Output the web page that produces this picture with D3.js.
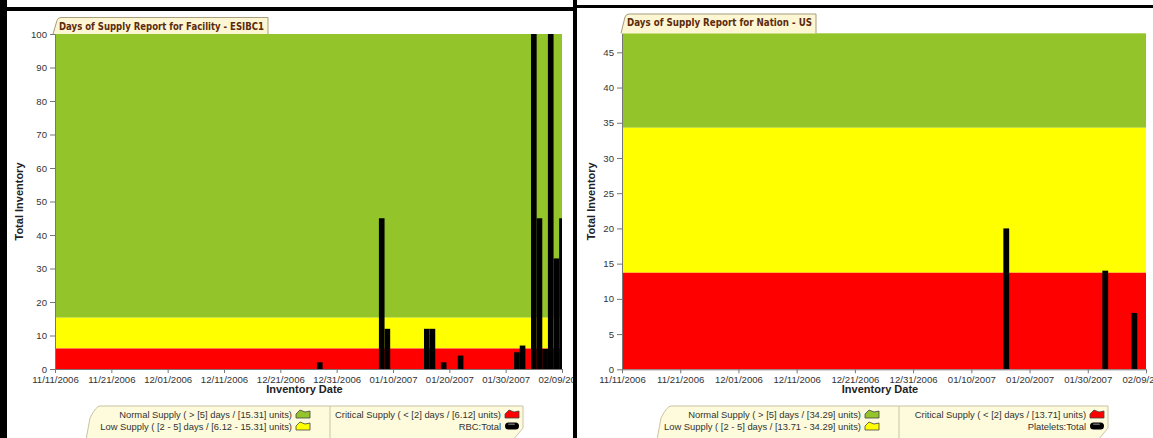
<!DOCTYPE html>
<html lang="en">
<head>
  <meta charset="UTF-8" />
  <title>Days of Supply Report</title>
  <script src="https://d3js.org/d3.v7.min.js"></script>
  <style>
    body { margin: 0; background: #fff; font-family: "Liberation Sans", Arial, sans-serif; }
    svg { display: block; }
    .tick text { fill: #333; font-size: 9.6px; font-family: "Liberation Sans", Arial, sans-serif; }
    .tick line, .domain { stroke: #777; }
  </style>
</head>
<body>
<svg width="1153" height="438"></svg>

<script>
  // dates shared by both x axes
  const xTickLabels = ["11/11/2006", "11/21/2006", "12/01/2006", "12/11/2006", "12/21/2006",
                       "12/31/2006", "01/10/2007", "01/20/2007", "01/30/2007", "02/09/2007"];

  // facility ESIBC1 - RBC:Total
  const facilityDates = ["12/28/2006", "01/08/2007", "01/09/2007", "01/16/2007", "01/17/2007",
                         "01/19/2007", "01/22/2007", "02/01/2007", "02/02/2007", "02/04/2007",
                         "02/05/2007", "02/06/2007", "02/07/2007", "02/08/2007", "02/09/2007"];
  const facilityValues = [2, 45, 12, 12, 12, 2, 4, 5, 7, 100, 45, 6, 100, 33, 45];
  const facilityThresholds = [6.12, 15.31];   // critical / low limits
  const facilityYMax = 100;
  const facilityYTicks = [0, 10, 20, 30, 40, 50, 60, 70, 80, 90, 100];

  // nation US - Platelets:Total
  const nationDates = ["01/16/2007", "02/02/2007", "02/07/2007"];
  const nationValues = [20, 14, 8];
  const nationThresholds = [13.71, 34.29];
  const nationYMax = 47.7;
  const nationYTicks = [0, 5, 10, 15, 20, 25, 30, 35, 40, 45];

  const facilityLegend = [
    ["Normal Supply ( > [5] days / [15.31] units)", "Critical Supply ( < [2] days / [6.12] units)"],
    ["Low Supply ( [2 - 5] days / [6.12 - 15.31] units)", "RBC:Total"]
  ];
  const nationLegend = [
    ["Normal Supply ( > [5] days / [34.29] units)", "Critical Supply ( < [2] days / [13.71] units)"],
    ["Low Supply ( [2 - 5] days / [13.71 - 34.29] units)", "Platelets:Total"]
  ];

  const parse = d3.timeParse("%m/%d/%Y");
  const fmt = d3.timeFormat("%m/%d/%Y");
  const colors = { green: "#93c42a", yellow: "#ffff00", red: "#fe0000", bar: "#000" };

  const svg = d3.select("svg");

  function drawPanel(o) {
    // each screenshot is cut at its own frame
    svg.append("clipPath").attr("id", "panel" + o.id).append("rect")
      .attr("x", o.frame[0]).attr("y", 0).attr("width", o.frame[1] - o.frame[0]).attr("height", 438);
    const g = svg.append("g").attr("clip-path", `url(#panel${o.id})`);

    const x = d3.scaleTime().domain([parse(xTickLabels[0]), parse(xTickLabels[xTickLabels.length - 1])])
      .range([o.left, o.right]);
    const y = d3.scaleLinear().domain([0, o.yMax]).range([o.bottom, o.top]);

    const clipId = "clip" + o.id;
    g.append("clipPath").attr("id", clipId).append("rect")
      .attr("x", o.left).attr("y", o.top).attr("width", o.right - o.left).attr("height", o.bottom - o.top);

    // supply bands
    const bands = [
      { lo: o.thresholds[1], hi: o.yMax, c: colors.green },
      { lo: o.thresholds[0], hi: o.thresholds[1], c: colors.yellow },
      { lo: 0, hi: o.thresholds[0], c: colors.red }
    ];
    g.selectAll(".band").data(bands).join("rect")
      .attr("x", o.left).attr("width", o.right - o.left)
      .attr("y", d => y(d.hi)).attr("height", d => y(d.lo) - y(d.hi))
      .attr("fill", d => d.c);

    // bars, one day wide
    const data = o.dates.map((d, i) => ({ date: parse(d), value: o.values[i] }));
    g.append("g").attr("clip-path", `url(#${clipId})`)
      .selectAll("rect").data(data).join("rect")
      .attr("x", d => x(d3.timeHour.offset(d.date, -12)))
      .attr("width", d => x(d3.timeHour.offset(d.date, 12)) - x(d3.timeHour.offset(d.date, -12)))
      .attr("y", d => y(Math.min(d.value, o.yMax)))
      .attr("height", d => o.bottom - y(Math.min(d.value, o.yMax)))
      .attr("fill", colors.bar);

    // axes
    g.append("g").attr("transform", `translate(0,${o.bottom})`)
      .call(d3.axisBottom(x).tickValues(xTickLabels.map(parse)).tickFormat(fmt).tickSize(4).tickSizeOuter(0).tickPadding(3));
    g.append("g").attr("transform", `translate(${o.left},0)`)
      .call(d3.axisLeft(y).tickValues(o.yTicks).tickSize(5).tickSizeOuter(0).tickPadding(3));

    g.append("text")
      .attr("x", (o.left + o.right) / 2 - 4).attr("y", o.bottom + 24)
      .attr("text-anchor", "middle").attr("font-size", 11).attr("font-weight", "bold").attr("fill", "#222")
      .text("Inventory Date");
    g.append("text")
      .attr("transform", `translate(${o.yTitleX},${(o.top + o.bottom) / 2}) rotate(-90)`)
      .attr("text-anchor", "middle").attr("font-size", 11).attr("font-weight", "bold").attr("fill", "#222")
      .text("Total Inventory");

    // title tab
    const t = o.tab;
    g.append("path")
      .attr("d", `M${t.x0},${o.top} L${t.x0 + 4},${t.y + 3} Q${t.x0 + 5},${t.y} ${t.x0 + 8},${t.y} L${t.x1},${t.y} L${t.x1},${o.top}`)
      .attr("fill", "#fdf6d2").attr("stroke", "#a89c7c").attr("stroke-width", 1);
    g.append("text")
      .attr("x", t.x0 + 6).attr("y", t.y + 12)
      .attr("font-size", 10.5).attr("font-weight", "bold").attr("fill", "#5b2a0e")
      .attr("font-family", "'DejaVu Sans', Verdana, sans-serif")
      .attr("textLength", t.x1 - t.x0 - 10).attr("lengthAdjust", "spacingAndGlyphs")
      .text(o.title);

    // legend box
    const L = o.legend;
    g.append("path")
      .attr("d", `M${L.x0 + 4},${L.y} L${L.x1},${L.y} L${L.x1},${L.y + 22} L${L.x1 - 10},${L.y + 34} L${L.x0 - 10},${L.y + 34} L${L.x0 - 6},${L.y + 12} Q${L.x0},${L.y} ${L.x0 + 4},${L.y}`)
      .attr("fill", "#fdfbdc").attr("stroke", "#c9c3a3");
    g.append("line").attr("x1", L.div).attr("x2", L.div).attr("y1", L.y).attr("y2", L.y + 34).attr("stroke", "#c9c3a3");

    const icons = [[colors.green, colors.red], [colors.yellow, "bar"]];
    const colEnds = [L.div - 38, L.x1 - 22];
    o.legendText.forEach((row, r) => {
      row.forEach((label, c) => {
        const by = L.y + 12 + r * 12;
        g.append("text")
          .attr("x", colEnds[c]).attr("y", by).attr("text-anchor", "end")
          .attr("font-size", 9.4).attr("fill", "#333").text(label);
        const ix = colEnds[c] + 4;
        const kind = icons[r][c];
        if (kind === "bar") {
          g.append("rect").attr("x", ix).attr("y", by - 7.5).attr("width", 14).attr("height", 7)
            .attr("rx", 3.5).attr("fill", "#000");
          g.append("rect").attr("x", ix + 3).attr("y", by - 6.5).attr("width", 7).attr("height", 1.5)
            .attr("rx", 0.75).attr("fill", "#666");
        } else {
          g.append("path")
            .attr("d", `M${ix},${by} L${ix},${by - 4} L${ix + 4},${by - 8} L${ix + 9},${by - 6} L${ix + 14},${by - 7} L${ix + 14},${by} Z`)
            .attr("fill", kind).attr("stroke", "#444").attr("stroke-width", 0.8);
        }
      });
    });
  }

  drawPanel({
    id: "F", frame: [0, 573], left: 55, right: 562, top: 34, bottom: 369, yTitleX: 23,
    yMax: facilityYMax, yTicks: facilityYTicks, thresholds: facilityThresholds,
    dates: facilityDates, values: facilityValues,
    title: "Days of Supply Report for Facility - ESIBC1",
    tab: { x0: 53, x1: 268, y: 17.5 },
    legend: { x0: 96, x1: 523, y: 406, div: 330 },
    legendText: facilityLegend
  });

  drawPanel({
    id: "N", frame: [577, 1153], left: 622, right: 1146, top: 33.3, bottom: 369.3, yTitleX: 595,
    yMax: nationYMax, yTicks: nationYTicks, thresholds: nationThresholds,
    dates: nationDates, values: nationValues,
    title: "Days of Supply Report for Nation - US",
    tab: { x0: 621, x1: 816, y: 14 },
    legend: { x0: 667, x1: 1108, y: 406, div: 899 },
    legendText: nationLegend
  });

  // black frame round the two screenshots
  svg.append("rect").attr("x", 0).attr("y", 0).attr("width", 7).attr("height", 438).attr("fill", "#000");
  svg.append("rect").attr("x", 0).attr("y", 7).attr("width", 574).attr("height", 4).attr("fill", "#000");
  svg.append("rect").attr("x", 573).attr("y", 0).attr("width", 4).attr("height", 438).attr("fill", "#000");
  svg.append("rect").attr("x", 576).attr("y", 5).attr("width", 577).attr("height", 3).attr("fill", "#000");
</script>
</body>
</html>
